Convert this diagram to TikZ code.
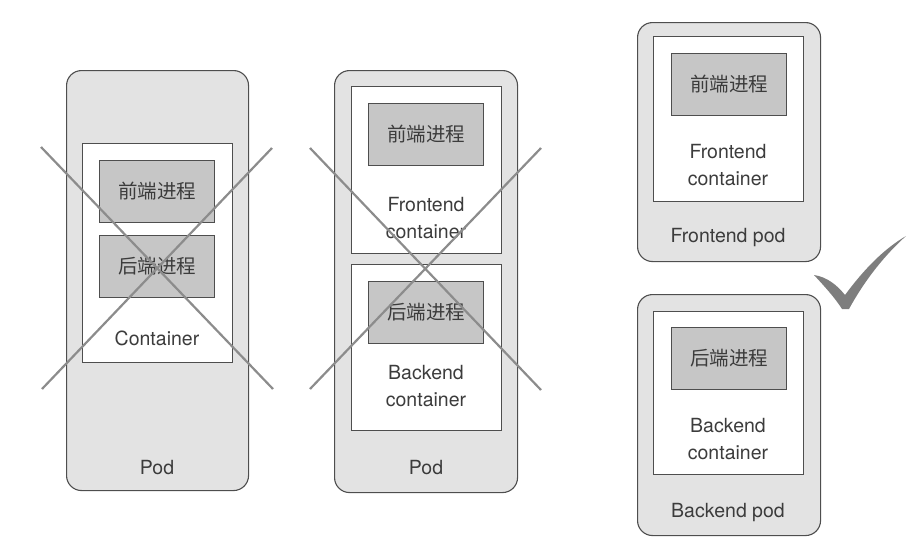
\documentclass[tikz,border=0pt]{standalone}
\usepackage{fontspec}
\setmainfont{TeX Gyre Heros}
\newfontfamily\cjk{Noto Sans CJK SC}
\definecolor{podgray}{HTML}{E3E3E3}
\definecolor{procgray}{HTML}{C6C6C6}
\definecolor{edgegray}{HTML}{4E4E4E}
\definecolor{crossgray}{HTML}{8C8C8C}
\definecolor{txtgray}{HTML}{3C3C3C}
\begin{document}
\begin{tikzpicture}[x=1pt, y=-1pt, font=\fontsize{19.5}{26.5}\selectfont, text=txtgray,
    pod/.style={draw=edgegray, fill=podgray, line width=1.1pt, rounded corners=15pt, anchor=north west, inner sep=0pt},
    cont/.style={draw=edgegray, fill=white, line width=1.1pt, anchor=north west, inner sep=0pt, minimum width=150pt},
    proc/.style={draw=edgegray, fill=procgray, line width=1.1pt, anchor=north west, inner sep=0pt, minimum width=115pt, minimum height=62pt, font=\fontsize{19.5}{22}\selectfont\cjk},
    lbl/.style={align=center, inner sep=0pt},
    cross/.style={crossgray, line width=2.2pt}]
    \useasboundingbox (0,0) rectangle (919,555);

    % one container with both processes
    \node[pod, minimum width=182pt, minimum height=420pt] at (66,70) (P1) {};
    \node[cont, minimum height=219pt] at (82,143) (C1) {};
    \node[proc] at (99,160) (F1) {前端进程};
    \node[proc] at (99,235) (B1) {后端进程};
    \node[lbl] at (157,338) (C1txt) {Container};
    \node[lbl] at (157,468) (P1txt) {Pod};
    \coordinate (x1a) at (41,147);
    \coordinate (x1b) at (273,389);
    \coordinate (x1c) at (42,389);
    \coordinate (x1d) at (272,148);
    \draw[cross] (x1a) -- (x1b);
    \draw[cross] (x1c) -- (x1d);

    % two containers in one pod
    \node[pod, minimum width=183pt, minimum height=422pt] at (334,70) (P2) {};
    \node[cont, minimum height=167pt] at (351,86) (FC2) {};
    \node[proc] at (368,103) (F2) {前端进程};
    \node[lbl] at (426,218) (FC2txt) {Frontend\\container};
    \node[cont, minimum height=166pt] at (351,264) (BC2) {};
    \node[proc] at (368,281) (B2) {后端进程};
    \node[lbl] at (426,386) (BC2txt) {Backend\\container};
    \node[lbl] at (426,468) (P2txt) {Pod};
    \coordinate (x2a) at (310,148);
    \coordinate (x2b) at (541,390);
    \coordinate (x2c) at (310,389);
    \coordinate (x2d) at (541,148);
    \draw[cross] (x2a) -- (x2b);
    \draw[cross] (x2c) -- (x2d);

    % one pod per container
    \node[pod, minimum width=183pt, minimum height=239pt] at (637,22) (P3) {};
    \node[cont, minimum height=165pt] at (653,36) (C3) {};
    \node[proc] at (671,53) (F3) {前端进程};
    \node[lbl] at (728,165) (C3txt) {Frontend\\container};
    \node[lbl] at (728,238) (P3txt) {Frontend pod};

    \node[pod, minimum width=183pt, minimum height=241pt] at (637,294) (P4) {};
    \node[cont, minimum height=163pt] at (653,311) (C4) {};
    \node[proc] at (671,327) (B4) {后端进程};
    \node[lbl] at (728,439) (C4txt) {Backend\\container};
    \node[lbl] at (728,513) (P4txt) {Backend pod};

    % tick
    \fill[crossgray!90!black] (814,275) .. controls (827,277) and (837,285) .. (845,295)
        .. controls (862,272) and (882,250) .. (906,236)
        .. controls (886,254) and (866,278) .. (849,309)
        -- (842,309) .. controls (835,298) and (826,288) .. cycle;
\end{tikzpicture}
\end{document}
